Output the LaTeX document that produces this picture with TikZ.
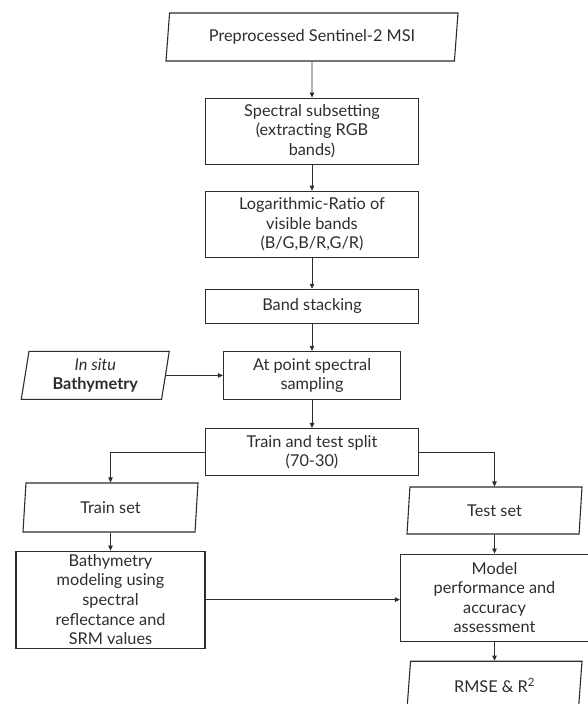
\documentclass[tikz,border=0pt]{standalone}
\usepackage{fontspec}
\setmainfont{Lato}
\usetikzlibrary{positioning,arrows.meta,shapes.geometric}
\definecolor{lngray}{RGB}{45,45,45}

\begin{document}
\begin{tikzpicture}[x=1pt,y=-1pt,font=\fontsize{16.3}{19.6}\selectfont,>={Triangle[length=5pt,width=4.5pt]},
      b/.style={draw=lngray,line width=1.1pt,text=lngray,align=center,inner sep=1pt,minimum width=213pt},
      io/.style={b,trapezium,trapezium left angle=78,trapezium right angle=102,
        trapezium stretches body,minimum width=175pt,minimum height=48pt},
      l/.style={->,draw=lngray,line width=0.8pt}]
    \useasboundingbox (0,0) rectangle (587,704);
    \node[io,minimum width=292pt] (src) at (312,37) {Preprocessed Sentinel-2 MSI};
    \node[b,minimum height=66pt,below=36pt of src] (sub)
      {Spectral subsetting\\(extracting RGB\\bands)};
    \node[b,minimum height=66pt,below=26pt of sub] (logr)
      {Logarithmic-Ratio of\\visible bands\\(B/G,B/R,G/R)};
    \node[b,minimum height=34pt,below=31pt of logr] (stk) {Band stacking};
    \node[b,minimum width=177pt,minimum height=48pt,below=27pt of stk] (samp)
      {At point spectral\\sampling};
    \node[io,minimum width=148pt,left=57pt of samp] (insitu) {\textit{In situ}\\\textbf{Bathymetry}};
    \node[b,minimum height=47pt,below=28pt of samp] (split) {Train and test split\\(70-30)};
    \node[io,minimum height=49pt] (train) at (110.5,507.5) {Train set};
    \node[io,minimum height=47pt] (test) at (494.5,510.5) {Test set};
    \node[b,minimum width=189pt,minimum height=97pt,below=18pt of train] (model)
      {Bathymetry\\modeling using\\spectral\\reflectance and\\SRM values};
    \node[b,minimum width=188pt,minimum height=87pt,below=19pt of test] (assess)
      {Model\\performance and\\accuracy\\assessment};
    \node[io,below=19pt of assess] (rmse) {RMSE \& R\textsuperscript{2}};
    \draw[l] (src) -- (sub);
    \draw[l] (sub) -- (logr);
    \draw[l] (logr) -- (stk);
    \draw[l] (stk) -- (samp);
    \draw[l] (insitu) -- (samp);
    \draw[l] (samp) -- (split);
    \draw[l] (split.west) -| (train.north);
    \draw[l] (split.east) -| (test.north);
    \draw[l] (train) -- (model);
    \draw[l] (test) -- (assess);
    \draw[l] (model) -- (model -| assess.west);
    \draw[l] (assess) -- (rmse);
  \end{tikzpicture}
\end{document}
